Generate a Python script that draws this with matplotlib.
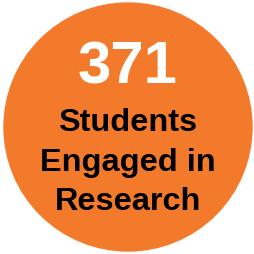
import matplotlib.pyplot as plt
from matplotlib.patches import Circle

# values
count = "371"
label_lines = ["Students", "Engaged in", "Research"]

orange = "#F47A2B"

fig = plt.figure(figsize=(2.55, 2.55), dpi=100)
ax = fig.add_axes([0, 0, 1, 1])
ax.set_xlim(0, 255)
ax.set_ylim(255, 0)
ax.axis("off")

ax.add_patch(Circle((128, 128), 124, color=orange))

px = 72 / 100  # pixels -> points
ax.text(128, 84, count, color="white", fontsize=60 * px, fontweight="bold",
        family="Liberation Sans", ha="center", va="baseline")

baselines = [131, 171, 210]
for line, y in zip(label_lines, baselines):
    ax.text(128, y, line, color="black", fontsize=32.5 * px, fontweight="bold",
            family="Liberation Sans", ha="center", va="baseline")

fig.savefig("out.png", dpi=100)
